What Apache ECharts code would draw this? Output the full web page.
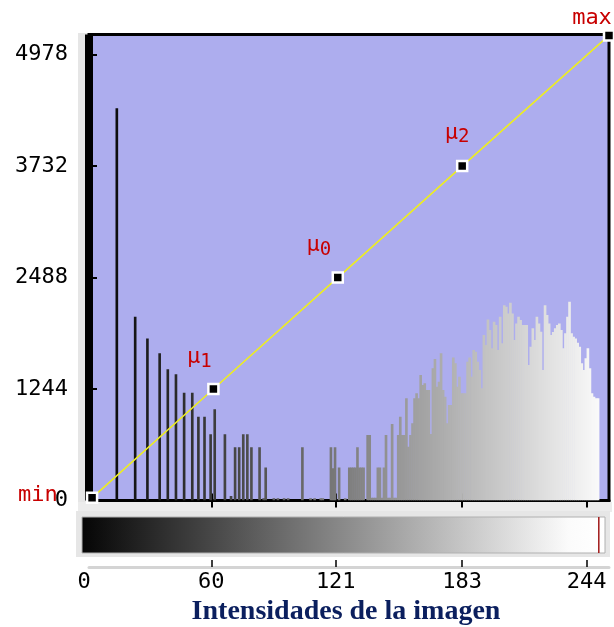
<!DOCTYPE html>
<html><head><meta charset="utf-8">
<script src="https://cdn.jsdelivr.net/npm/echarts@6/dist/echarts.min.js"></script>
<style>html,body{margin:0;padding:0;background:#fff}#c{width:614px;height:627px}</style>
</head><body><div id="c"></div>
<script>
// ---- data ----
const sparseBins   = [13,22,28,34,38,42,46,50,53,56,59,61,66,69,71,73,75,77,79,83,85,86,90,92,95,97,104,108,110,113,114,118,119,120,122,125,127,128,129,130,131,132,133,134,136,137,138,139,140,141,142,143,144,145,146,147];
const sparseCounts = [4377,2050,1809,1642,1464,1408,1203,1203,935,935,739,1018,739,51,594,594,739,739,594,594,25,367,25,25,25,25,594,25,25,25,25,594,360,594,367,25,367,367,367,367,594,367,367,367,731,731,30,30,30,367,367,30,367,731,30,30];
const denseStart = 148;
const denseCounts = [854,30,30,731,935,731,731,1140,600,731,862,1140,1196,1140,1400,1289,1308,1233,1233,742,1475,1578,1270,1326,1642,1233,1158,862,1066,1066,1597,1531,1270,1381,1196,1196,1196,1548,1597,1381,1679,1660,1548,1456,1252,1846,1735,2021,1902,1698,1994,1958,1679,2050,1754,2180,2162,2088,2206,2088,1790,1976,2050,2013,1958,1958,1958,1512,1716,1921,1790,2050,1976,1883,1456,2180,2069,1976,1846,1880,1921,1958,1976,1902,1698,1865,2050,2217,1865,1827,1809,1760,1716,1531,1456,1586,1698,1475,1196,1158,1140,1140];
const xTickValues = [60,121,183,244];
const xLabelValues = [0,60,121,183,244];
const xLabelTexts = ['0','60','121','183','244'];
const yTickValues = [0,1244,2488,3732,4978];
const markerX = [1.5,61,122,183,255];
const markerY = [30,1244,2488,3732,5190];
const markerBase = ['min','μ','μ','μ','max'];
const markerSub = ['','1','0','2',''];
const colorbarMarker = [250];
const xMax = 255, yMax = 5200;

// ---- build ----
const hist = [];
sparseBins.forEach((b,k)=>hist.push([b,sparseCounts[k]]));
denseCounts.forEach((c,k)=>hist.push([denseStart+k,c]));

const mono = "'DejaVu Sans Mono', monospace";
const red = '#c80000';
const labelPos = ['left','top','top','top','top'];
const labelOff = [[0,-3],[-14,-7],[-19,-8],[-5,-9],[-17,2]];
const labelDist = [28,4,4,4,2];

const markerData = markerX.map((x,k)=>({
  value:[x,markerY[k]],
  label:{show:true, position:labelPos[k], offset:labelOff[k], distance:labelDist[k],
    formatter: markerSub[k] ? '{m|'+markerBase[k]+'}{s|'+markerSub[k]+'}' : '{m|'+markerBase[k]+'}',
    rich:{m:{fontFamily:mono,fontSize:22,color:red},
          s:{fontFamily:mono,fontSize:19,color:red,verticalAlign:'bottom',padding:[9,0,0,0]}}}
}));

const chart = echarts.init(document.getElementById('c'));
chart.setOption({
  backgroundColor:'#fff',
  animation:false,
  title:{text:'Intensidades de la imagen', left:341, top:593, textAlign:'center',
    textStyle:{fontFamily:"'Liberation Serif', serif", fontWeight:'bold', fontSize:28, color:'#0b1f5e'}},
  graphic:[
    {type:'rect', z:-10, shape:{x:78,y:33,width:11,height:470}, style:{fill:'#e6e6e6'}},
    {type:'rect', z:-10, shape:{x:78,y:502,width:534,height:10}, style:{fill:'#ececec'}},
    {type:'rect', z:-10, shape:{x:76,y:511,width:534,height:46}, style:{fill:'#e6e6e6'}},
    {type:'rect', z:-9, shape:{x:82,y:517,width:523,height:36},
      style:{fill:new echarts.graphic.LinearGradient(0,0,1,0,[{offset:0,color:'#050505'},{offset:0.5,color:'#8a8a8a'},{offset:0.93,color:'#fbfbfb'},{offset:1,color:'#ffffff'}]), stroke:'#b0b0b0', lineWidth:1}}
  ],
  grid:[
    {left:89, top:34.5, width:520, height:466, show:true, backgroundColor:'#adadee', borderColor:'#000', borderWidth:3},
    {left:89, top:556, width:520, height:11},
    {left:89, top:517, width:520, height:36}
  ],
  xAxis:[
    {type:'value', gridIndex:0, min:0, max:xMax, splitLine:{show:false},
      axisLine:{show:true, onZero:false, lineStyle:{color:'#000', width:3}},
      axisTick:{show:true, customValues:xTickValues, length:7, lineStyle:{color:'#000', width:2}},
      axisLabel:{show:false}},
    {type:'value', gridIndex:0, min:0, max:xMax, position:'bottom', splitLine:{show:false},
      axisLine:{show:false},
      axisTick:{show:true, inside:true, customValues:xTickValues, length:7, lineStyle:{color:'#000', width:2}},
      axisLabel:{show:false}},
    {type:'value', gridIndex:1, min:0, max:xMax, splitLine:{show:false},
      axisLine:{show:true, lineStyle:{color:'#d4d4d4', width:3}},
      axisTick:{show:true, inside:true, customValues:xTickValues, length:7, lineStyle:{color:'#000', width:1.5}},
      axisLabel:{show:true, customValues:xLabelValues, margin:4,
        formatter:(v)=>{const k=xLabelValues.indexOf(v); return k===0 ? '{z|'+xLabelTexts[k]+'}' : xLabelTexts[k];},
        fontFamily:mono, fontSize:22, color:'#000',
        rich:{z:{fontFamily:mono,fontSize:22,color:'#000',padding:[0,10,0,0]}}}},
    {type:'value', gridIndex:2, min:0, max:xMax, show:false}
  ],
  yAxis:[
    {type:'value', gridIndex:0, min:0, max:yMax, splitLine:{show:false},
      axisLine:{show:true, lineStyle:{color:'#000', width:8, cap:'butt'}},
      axisTick:{show:true, inside:true, customValues:yTickValues, length:8, lineStyle:{color:'#000', width:2}},
      axisLabel:{show:true, customValues:yTickValues, margin:21, formatter:(v)=>String(v),
        fontFamily:mono, fontSize:22, color:'#000'}},
    {type:'value', gridIndex:1, min:0, max:1, show:false},
    {type:'value', gridIndex:2, min:0, max:1, show:false}
  ],
  series:[
    {type:'custom', xAxisIndex:0, yAxisIndex:0, data:hist, encode:{x:0,y:1}, clip:true, z:2,
      renderItem:(params, api)=>{
        const i = api.value(0), v = api.value(1);
        const p0 = api.coord([i,0]), p1 = api.coord([i+1,v]);
        const g = Math.round(i);
        return {type:'rect', shape:{x:p0[0], y:p1[1], width:p1[0]-p0[0]+0.6, height:p0[1]-p1[1]},
          style:{fill:'rgb('+g+','+g+','+g+')'}};
      }},
    {type:'line', xAxisIndex:0, yAxisIndex:0, data:markerData, z:5, clip:false,
      symbol:'rect', symbolSize:10, showAllSymbol:true,
      lineStyle:{color:'#eeee1e', width:1.6},
      itemStyle:{color:'#000', borderColor:'#fff', borderWidth:2.5}},
    {type:'custom', xAxisIndex:3, yAxisIndex:2, data:colorbarMarker.map(v=>[v]), encode:{x:0}, z:3,
      renderItem:(params, api)=>{
        const a = api.coord([api.value(0),0]), b = api.coord([api.value(0),1]);
        return {type:'line', shape:{x1:a[0],y1:a[1],x2:b[0],y2:b[1]}, style:{stroke:'#a01818', lineWidth:1.5}};
      }}
  ]
});
</script></body></html>
